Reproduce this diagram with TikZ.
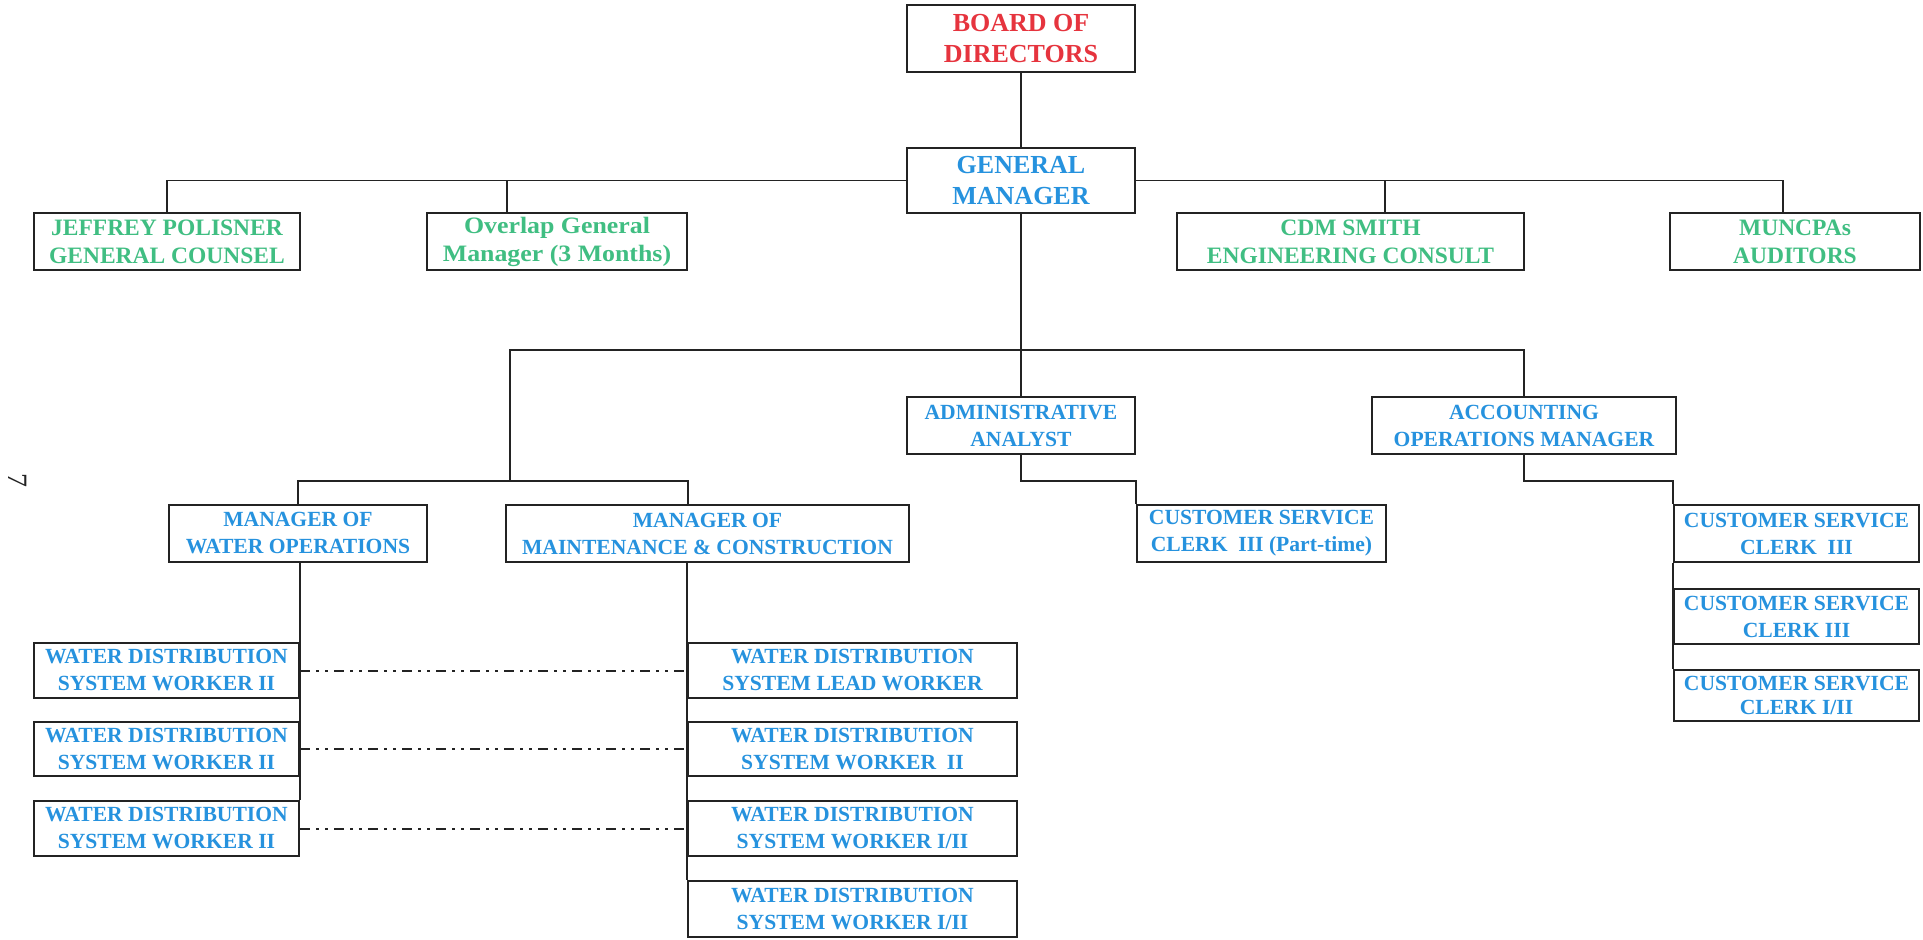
\documentclass[tikz,border=0pt]{standalone}
\usepackage{fontspec}
\setmainfont{Liberation Serif}
\newfontfamily\widefont[FakeStretch=1.1]{Liberation Serif}
\usetikzlibrary{calc}
\definecolor{bred}{RGB}{230,52,62}
\definecolor{bblue}{RGB}{38,146,222}
\definecolor{bgreen}{RGB}{64,190,130}
\definecolor{ink}{RGB}{35,35,35}
\tikzset{
  box/.style={draw=ink, line width=2pt, rectangle, inner sep=0pt, align=center,
    font=\bfseries\fontsize{21.6}{27}\selectfont, text=bblue},
  topbox/.style={box, font=\bfseries\fontsize{26}{31}\selectfont},
  midbox/.style={box, font=\bfseries\fontsize{23.5}{28}\selectfont, text=bgreen},
  conn/.style={draw=ink, line width=1.8pt},
  dashdot/.style={draw=ink, line width=2pt, dash pattern=on 10pt off 6pt on 3pt off 6pt on 3pt off 6pt},
}
\begin{document}
\begin{tikzpicture}[x=1pt,y=-1pt]
\fill[white] (0,0) rectangle (1923,940);
\useasboundingbox (0,0) rectangle (1923,940);

% top
\node[topbox, text=bred, minimum width=228pt, minimum height=67pt] (board) at (1021,38.5) {BOARD OF\\DIRECTORS};
\node[topbox, minimum width=228pt, minimum height=65pt] (gm) at (1021,180.5) {GENERAL\\MANAGER};

% level 2
\node[midbox, minimum width=266pt, minimum height=57pt] (jeff) at (167,241.5) {JEFFREY POLISNER\\GENERAL COUNSEL};
\node[midbox, font=\widefont\bfseries\fontsize{23.5}{28}\selectfont, minimum width=260pt, minimum height=57pt] (ov) at (557,241.5) {Overlap General\\Manager (3 Months)};
\node[midbox, minimum width=347pt, minimum height=57pt] (cdm) at (1350.5,241.5) {CDM SMITH\\ENGINEERING CONSULT};
\node[midbox, minimum width=250pt, minimum height=57pt] (mun) at (1795,241.5) {MUNCPAs\\AUDITORS};

% level 3
\node[box, minimum width=228pt, minimum height=57pt] (admin) at (1021,425.5) {ADMINISTRATIVE\\ANALYST};
\node[box, minimum width=304pt, minimum height=57pt] (acct) at (1524,425.5) {ACCOUNTING\\OPERATIONS MANAGER};

% level 4
\node[box, minimum width=258pt, minimum height=57pt] (mwo) at (298,533.5) {MANAGER OF\\WATER OPERATIONS};
\node[box, minimum width=403pt, minimum height=57pt] (mmc) at (707.5,533.5) {MANAGER OF\\MAINTENANCE \& CONSTRUCTION};
\node[box, minimum width=249pt, minimum height=57pt] (cspt) at (1261.5,533.5) {CUSTOMER SERVICE\\CLERK\ \ III (Part-time)};

% right customer service column
\node[box, minimum width=245pt, minimum height=57pt] (cs1) at (1796.5,533.5) {CUSTOMER SERVICE\\CLERK\ \ III};
\node[box, minimum width=245pt, minimum height=55pt] (cs2) at (1796.5,616.5) {CUSTOMER SERVICE\\CLERK III};
\node[box, minimum width=245pt, minimum height=51pt, font=\bfseries\fontsize{21.6}{23.5}\selectfont] (cs3) at (1796.5,695.5) {CUSTOMER SERVICE\\CLERK I/II};

% left workers
\node[box, minimum width=265pt, minimum height=55pt] (w1) at (166.5,670.5) {WATER DISTRIBUTION\\SYSTEM WORKER II};
\node[box, minimum width=265pt, minimum height=54pt] (w2) at (166.5,749) {WATER DISTRIBUTION\\SYSTEM WORKER II};
\node[box, minimum width=265pt, minimum height=55pt] (w3) at (166.5,828.5) {WATER DISTRIBUTION\\SYSTEM WORKER II};

% right workers
\node[box, minimum width=329pt, minimum height=55pt] (r1) at (852.5,670.5) {WATER DISTRIBUTION\\SYSTEM LEAD WORKER};
\node[box, minimum width=329pt, minimum height=54pt] (r2) at (852.5,749) {WATER DISTRIBUTION\\SYSTEM WORKER\ \ II};
\node[box, minimum width=329pt, minimum height=55pt] (r3) at (852.5,828.5) {WATER DISTRIBUTION\\SYSTEM WORKER I/II};
\node[box, minimum width=329pt, minimum height=56pt] (r4) at (852.5,909) {WATER DISTRIBUTION\\SYSTEM WORKER I/II};

% page number
\node[rotate=-90, font=\fontsize{28}{28}\selectfont, text=ink] (pg) at (18,480) {7};

% connectors
\coordinate (ovt) at ([xshift=-50pt]ov.north);
\coordinate (cdmt) at ([xshift=34.5pt]cdm.north);
\coordinate (munt) at ([xshift=-12pt]mun.north);
\coordinate (bar3) at (1021,350);
\coordinate (lsplit) at (510,481);
\coordinate (mmct) at ([xshift=-19.5pt]mmc.north);
\coordinate (e1) at (1021,481);
\coordinate (e2) at (1524,481);

\draw[conn] (board.south) -- (gm.north);
\draw[conn] (jeff.north) |- (gm.west);
\draw[conn] (ovt) -- (ovt |- gm.west);
\draw[conn] (gm.east) -| (munt);
\draw[conn] (cdmt) -- (cdmt |- gm.east);
\draw[conn] (gm.south) -- (admin.north);
\draw[conn] (acct.north) |- (bar3) -| (lsplit);
\draw[conn] (mwo.north) |- (lsplit) -| (mmct);
\draw[conn] (admin.south) -- (e1) -| (cspt.north west);
\draw[conn] (acct.south) -- (e2) -| (cs1.north west);
\draw[conn] (cs1.south west) -- (cs3.north west);
\draw[conn] (w1.north east |- mwo.south) -- (w3.north east);
\draw[conn] (r1.north west |- mmc.south) -- (r4.north west);
\draw[dashdot] (w1.east) -- (r1.west);
\draw[dashdot] (w2.east) -- (r2.west);
\draw[dashdot] (w3.east) -- (r3.west);
\end{tikzpicture}
\end{document}
